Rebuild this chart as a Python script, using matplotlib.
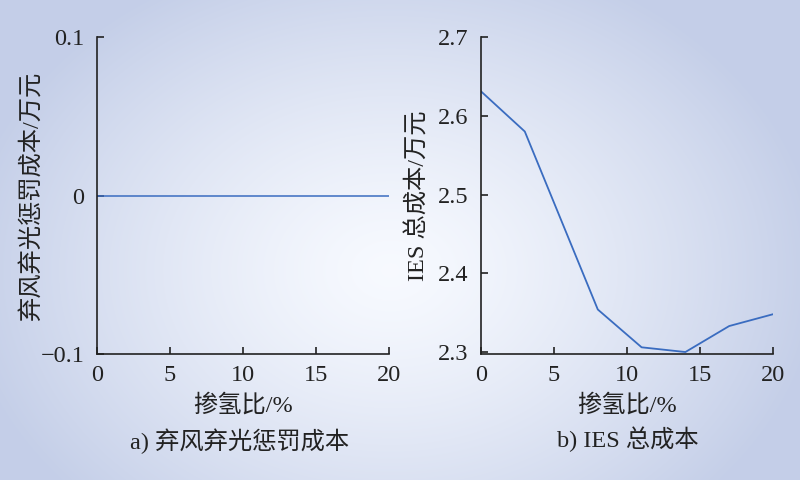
import numpy as np
import matplotlib
matplotlib.use("Agg")
import matplotlib.pyplot as plt

plt.rcParams['font.family'] = ['Liberation Serif', 'Noto Sans CJK SC']
plt.rcParams['axes.unicode_minus'] = True

# data
h2_ratio_a = [0, 20]
curtail_cost = [0, 0]
h2_ratio_b = [0, 3, 8, 11, 14, 17, 20]
ies_cost = [2.631, 2.580, 2.354, 2.306, 2.300, 2.333, 2.348]

xticks = [0, 5, 10, 15, 20]
yticks_a = [-0.1, 0, 0.1]
yticklabels_a = ['\u22120.1', '0', '0.1']
yticks_b = [2.3, 2.4, 2.5, 2.6, 2.7]

line_color = '#3a6cc0'
fs = 17.5

fig = plt.figure(figsize=(8, 4.8), dpi=100)

# background gradient
bg = fig.add_axes([0, 0, 1, 1], zorder=-10)
yy, xx = np.mgrid[0:480, 0:800]
d = np.sqrt(((xx - 390) / 430.0) ** 2 + ((yy - 270) / 330.0) ** 2)
t = np.clip(d, 0, 1) ** 1.3
white = np.array([0.97, 0.98, 1.0])
blue = np.array([0.77, 0.81, 0.91])
img = white[None, None, :] * (1 - t[..., None]) + blue[None, None, :] * t[..., None]
bg.imshow(img, aspect='auto', extent=[0, 1, 0, 1])
bg.axis('off')

ax1 = fig.add_axes([97 / 800, 1 - 354 / 480, 292 / 800, 317 / 480])
ax2 = fig.add_axes([481 / 800, 1 - 354 / 480, 292 / 800, 317 / 480])

ax1.plot(h2_ratio_a, curtail_cost, color=line_color, lw=1.1)
ax1.set_xlim(0, 20)
ax1.set_ylim(-0.1, 0.1)
ax1.set_yticks(yticks_a)
ax1.set_yticklabels(yticklabels_a)

ax2.plot(h2_ratio_b, ies_cost, color=line_color, lw=1.3)
ax2.set_xlim(0, 20)
ax2.set_ylim(2.2975, 2.7)
ax2.set_yticks(yticks_b)
ax2.set_yticklabels(['2.3', '2.4', '2.5', '2.6', '2.7'])

for ax in (ax1, ax2):
    ax.patch.set_alpha(0)
    ax.spines['top'].set_visible(False)
    ax.spines['right'].set_visible(False)
    for s in ('left', 'bottom'):
        ax.spines[s].set_linewidth(1.2)
        ax.spines[s].set_color('#222222')
    ax.set_xticks(xticks)
    ax.tick_params(direction='in', length=5, width=1.2, labelsize=fs,
                   colors='#222222')
    ax.tick_params(axis='x', pad=8)
    ax.tick_params(axis='y', pad=9)

# axis labels and captions
fig.text(32 / 800, 1 - 196 / 480, '弃风弃光惩罚成本/万元', fontsize=fs,
         rotation=90, ha='center', va='center', color='#222222')
fig.text(418 / 800, 1 - 196 / 480, 'IES 总成本/万元', fontsize=fs,
         rotation=90, ha='center', va='center', color='#222222')
fig.text(243 / 800, 1 - 405 / 480, '掺氢比/%', fontsize=fs,
         ha='center', va='center', color='#222222')
fig.text(627 / 800, 1 - 405 / 480, '掺氢比/%', fontsize=fs,
         ha='center', va='center', color='#222222')
fig.text(240 / 800, 1 - 441 / 480, 'a) 弃风弃光惩罚成本', fontsize=fs,
         ha='center', va='center', color='#222222')
fig.text(628 / 800, 1 - 439 / 480, 'b) IES 总成本', fontsize=fs,
         ha='center', va='center', color='#222222')

fig.savefig('out.png', dpi=100)
